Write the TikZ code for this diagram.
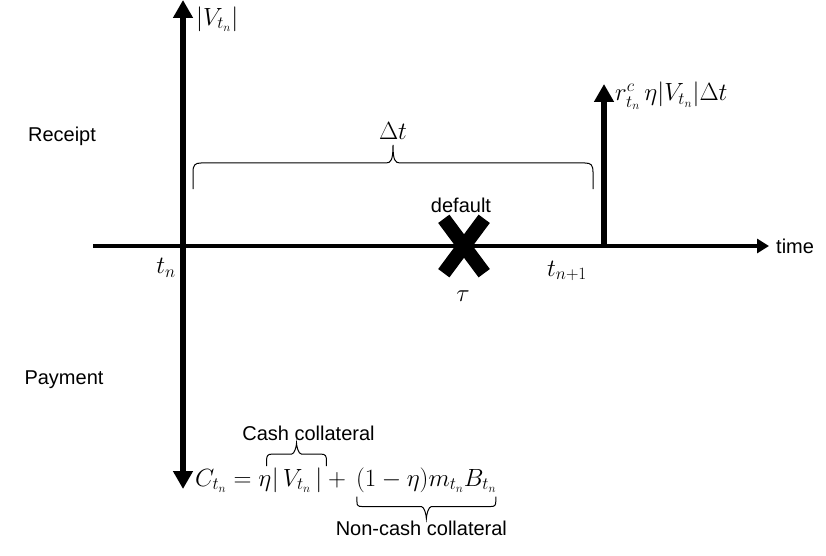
\documentclass[tikz,border=0pt]{standalone}
\usepackage{fontspec}
\setmainfont{Liberation Sans}
\usetikzlibrary{arrows.meta,calc}
\begin{document}
\begin{tikzpicture}[x=1pt,y=-1pt,
  bigarrow/.style={line width=6.5pt,-{Triangle[length=18pt,width=19pt]}},
  timeaxis/.style={line width=3.5pt,-{Triangle[length=12pt,width=14pt]}},
  bracepath/.style={line width=1pt},
  lbl/.style={font=\fontsize{20}{23}\selectfont,inner sep=0pt},
  mth/.style={font=\fontsize{23}{26}\selectfont,inner sep=0pt},
  crossarm/.style={line width=14pt}]
\useasboundingbox (0,0) rectangle (826,556);
% axes
\coordinate (o) at (183,246);
\coordinate (vtop) at (183,0);
\coordinate (vbot) at (183,489);
\coordinate (hl) at (93,246);
\coordinate (hr) at (769,246);
\coordinate (rb) at (604,246);
\coordinate (rt) at (604,84);
\draw[timeaxis] (hl) -- (hr);
\draw[bigarrow] (o) -- (vtop);
\draw[bigarrow] (o) -- (vbot);
\draw[bigarrow] (rb) -- (rt);
% labels
\node[mth,anchor=west] (vlab) at (196,19) {$|V_{t_n}|$};
\node[mth,anchor=west] (rlab) at (615,96) {$r^{c}_{t_n}\,\eta|V_{t_n}|\Delta t$};
\node[lbl] (receipt) at (62,136) {Receipt};
\node[lbl] (payment) at (64,380) {Payment};
\node[lbl,anchor=west] (time) at (776,246) {time};
\node[mth] (tn) at (166,268) {$t_n$};
\node[mth] (tn1) at (567,271) {$t_{n+1}$};
\node[lbl] (default) at (461,205) {default};
\node[mth] (tau) at (463,296) {$\tau$};
% default cross
\node[minimum width=40pt,minimum height=54pt,inner sep=0pt] (cross) at (464,246) {};
\draw[crossarm] (cross.north west) -- (cross.south east);
\draw[crossarm] (cross.north east) -- (cross.south west);
% Delta t brace
\node[mth] (dt) at (393,131) {$\Delta t$};
\draw[bracepath] (193,189) -- (193,172) .. controls (193,165) and (195,163) .. (201,163)
  -- (386,163) .. controls (391,163) and (393,160) .. (393,145)
  .. controls (393,160) and (395,163) .. (400,163)
  -- (585,163) .. controls (591,163) and (593,165) .. (593,172) -- (593,189);
% formula
\node[mth,anchor=base west] (fa) at (195,486) {$C_{t_n} = \eta$};
\node[mth,anchor=base west] (fb) at (fa.base east) {$\bigl|\,V_{t_n}\,\bigr|$};
\node[mth,anchor=base west] (fc) at (fb.base east) {${}+{}\,$};
\node[mth,anchor=base west] (fd) at (fc.base east) {$(1-\eta)m_{t_n}B_{t_n}$};
% cash collateral brace (above |V|)
\coordinate (cbl) at ([xshift=-5pt,yshift=1pt]fb.north west);
\coordinate (cbr) at ([xshift=4pt,yshift=1pt]fb.north east);
\coordinate (cmid) at ($(cbl)!0.5!(cbr)+(0,-12)$);
\coordinate (ctop) at ($(cmid)+(0,-11)$);
\draw[bracepath] (cbl) -- ++(0,-6) .. controls +(0,-4) and +(-4,0) .. ++(5,-6)
  -- ([xshift=-5pt]cmid) .. controls +(3,0) and +(0,3) .. (ctop)
  .. controls +(0,3) and +(-3,0) .. ([xshift=5pt]cmid)
  -- ([xshift=-5pt]cbr |- cmid) .. controls +(4,0) and +(0,-4) .. ([yshift=6pt]cbr) -- (cbr);
\node[lbl,anchor=south] (cash) at ([xshift=12pt,yshift=2pt]ctop) {Cash collateral};
% non-cash collateral brace (below second term)
\coordinate (nbl) at ([xshift=1pt,yshift=-4pt]fd.south west);
\coordinate (nbr) at ([xshift=-1pt,yshift=-4pt]fd.south east);
\coordinate (nmid) at ($(nbl)!0.5!(nbr)+(0,10)$);
\coordinate (nbot) at ($(nmid)+(0,12)$);
\draw[bracepath] (nbl) -- ++(0,5) .. controls +(0,4) and +(-4,0) .. ++(5,5)
  -- ([xshift=-5pt]nmid) .. controls +(3,0) and +(0,-3) .. (nbot)
  .. controls +(0,-3) and +(-3,0) .. ([xshift=5pt]nmid)
  -- ([xshift=-5pt]nbr |- nmid) .. controls +(4,0) and +(0,4) .. ([yshift=-5pt]nbr) -- (nbr);
\node[lbl,anchor=north] (noncash) at ([xshift=-5pt,yshift=-2pt]nbot) {Non-cash collateral};
\end{tikzpicture}
\end{document}
